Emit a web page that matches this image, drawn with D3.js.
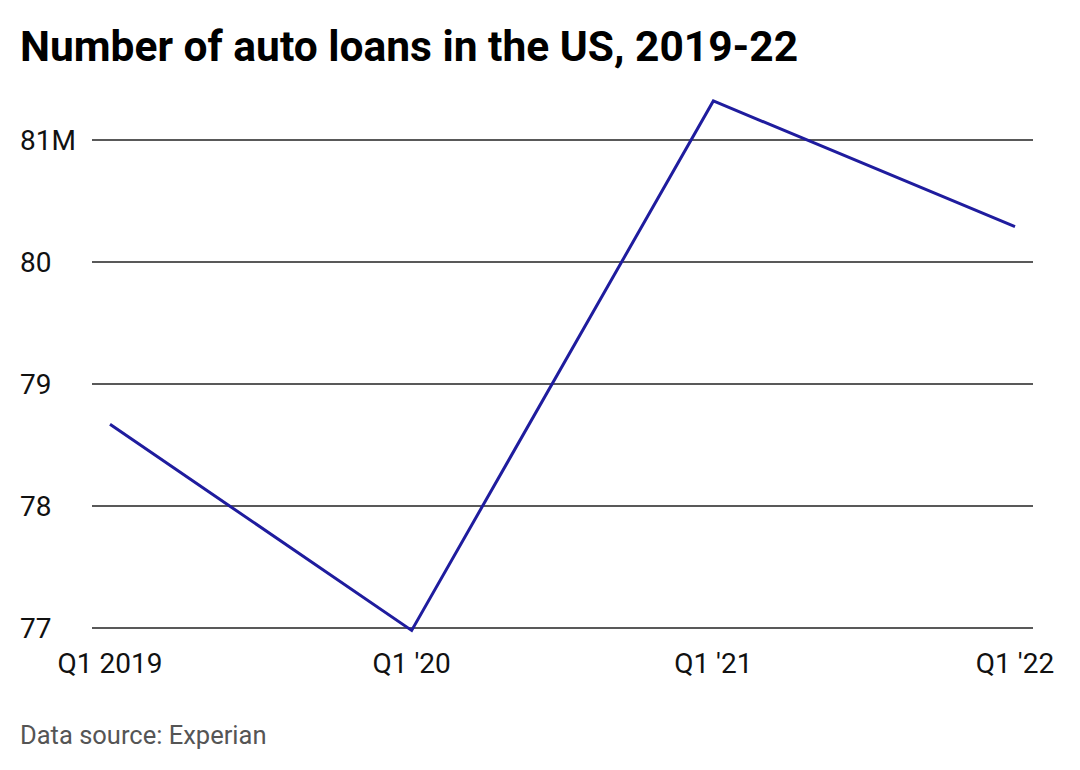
<!DOCTYPE html>
<html><head><meta charset="utf-8">
<script src="https://cdn.jsdelivr.net/npm/d3@7"></script>
<style>body{margin:0;background:#fff;font-family:Roboto,sans-serif}</style>
</head><body><svg id="c" width="1080" height="770"></svg>
<script>
const categories=["Q1 2019","Q1 '20","Q1 '21","Q1 '22"];
const values=[78.67,76.98,81.32,80.29];
const yTicks=[77,78,79,80,81];
const svg=d3.select("#c");
const x=d3.scalePoint().domain(categories).range([110,1015]);
const y=d3.scaleLinear().domain([77,81]).range([628,140]);
svg.append("text").attr("x",20).attr("y",61).attr("font-size",42.5).attr("font-weight",700).attr("fill","#000").text("Number of auto loans in the US, 2019-22");
yTicks.forEach(t=>{
 svg.append("line").attr("x1",92).attr("x2",1033).attr("y1",y(t)).attr("y2",y(t)).attr("stroke","#222").attr("stroke-width",1.3);
 svg.append("text").attr("x",20).attr("y",y(t)+10).attr("font-size",28).attr("fill","#111").text(t===81?"81M":t);
});
categories.forEach((c,i)=>{
 svg.append("text").attr("x",x(c)).attr("y",673).attr("font-size",28).attr("fill","#111")
  .attr("text-anchor","middle").text(c);
});
svg.append("path").datum(values).attr("fill","none").attr("stroke","#1f1c9e").attr("stroke-width",3)
 .attr("d",d3.line().x((d,i)=>x(categories[i])).y(d=>y(d)));
svg.append("text").attr("x",20).attr("y",744).attr("font-size",25.5).attr("fill","#555").text("Data source: Experian");
</script></body></html>
